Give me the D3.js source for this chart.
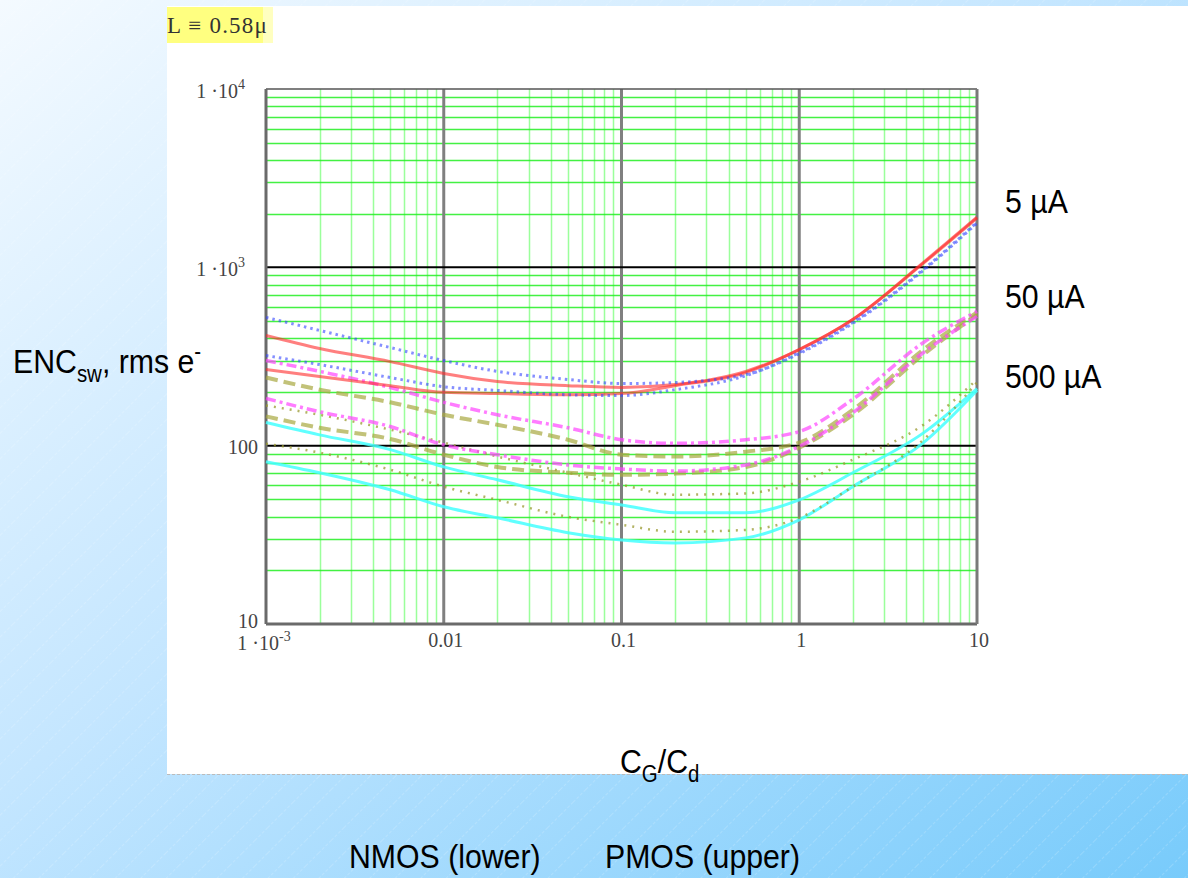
<!DOCTYPE html>
<html>
<head>
<meta charset="utf-8">
<script src="https://cdn.jsdelivr.net/npm/d3@7/dist/d3.min.js"></script>
<style>
  html, body { margin: 0; padding: 0; background: #fff; }
  svg { display: block; }
  .narrow { font-family: "Liberation Sans", Arial, sans-serif; }
  .serif { font-family: "Liberation Serif", "Times New Roman", serif; }
</style>
</head>
<body>
<svg id="chart" width="1188" height="878"></svg>
<script>
// ---------------- DATA ----------------
const cgcd = [0.001, 0.002, 0.005, 0.01, 0.02, 0.05, 0.1, 0.2, 0.5, 1, 2, 5, 10];

// 5 uA group
const red5Upper  = [415, 351, 296, 254, 229, 217, 212, 220, 261, 346, 510, 1067, 1910];
const red5Lower  = [267, 244, 217, 199, 196, 193, 196, 217, 257, 346, 510, 1055, 1890];
const blue5Upper = [524, 443, 355, 300, 261, 235, 223, 226, 250, 333, 491, 975, 1791];
const blue5Lower = [320, 285, 241, 214, 204, 193, 191, 206, 247, 328, 485, 962, 1770];

// 50 uA group
const mag50Upper = [300, 261, 212, 175, 149, 126, 108, 103, 108, 120, 182, 379, 566];
const olv50Upper = [241, 206, 175, 149, 131, 108, 89, 87, 92.5, 104, 159, 346, 558];
const mag50Lower = [184, 155, 128, 101, 89, 78, 74, 72, 78, 99, 153, 333, 531];
const olv50Lower = [146, 126, 109, 89, 76, 70.5, 68.7, 69.7, 76, 97.5, 149, 325, 544];

// 500 uA group
const dot500Upper  = [168, 149, 123, 104, 87, 70.5, 60.4, 53.1, 54, 62.8, 83.4, 131, 235];
const cyan500Upper = [135, 115, 95, 76, 64.4, 51.7, 46.5, 42.1, 42.1, 49.7, 70.5, 118, 209];
const dot500Lower  = [102.6, 91.4, 73.3, 58.9, 49.7, 39.9, 36, 32.9, 33.7, 39.4, 58.9, 108, 226];
const cyan500Lower = [81.3, 70.5, 56.6, 45.4, 39.4, 32.5, 29.6, 28.5, 30.4, 38.4, 58.9, 104, 204];

const xTicks = [0.001, 0.01, 0.1, 1, 10];
const xTickText = ["1 ·10^-3", "0.01", "0.1", "1", "10"];
const yTicks = [10, 100, 1000, 10000];
const yTickText = ["10", "100", "1 ·10^3", "1 ·10^4"];

const groupLabels = ["5 µA", "50 µA", "500 µA"];
const paramLabel = "L ≡ 0.58μ";
const deviceLabels = ["NMOS (lower)", "PMOS (upper)"];

// ---------------- DRAW ----------------
const svg = d3.select("#chart");
const W = 1188, H = 878;
const defs = svg.append("defs");

const bg = defs.append("linearGradient").attr("id", "bg")
  .attr("x1", "0").attr("y1", "0").attr("x2", "1").attr("y2", "1");
bg.append("stop").attr("offset", "0").attr("stop-color", "#f4faff");
bg.append("stop").attr("offset", "0.45").attr("stop-color", "#c4e6ff");
bg.append("stop").attr("offset", "1").attr("stop-color", "#78cbfb");

const pat = defs.append("pattern").attr("id", "hatch")
  .attr("patternUnits", "userSpaceOnUse").attr("width", 18).attr("height", 18)
  .attr("patternTransform", "rotate(45)");
pat.append("line").attr("x1", 0).attr("y1", 0).attr("x2", 0).attr("y2", 18)
  .attr("stroke", "#ffffff").attr("stroke-width", 1).attr("stroke-opacity", 0.35)
  .attr("stroke-dasharray", "3,2");

svg.append("rect").attr("width", W).attr("height", H).attr("fill", "url(#bg)");
svg.append("rect").attr("width", W).attr("height", H).attr("fill", "url(#hatch)");

// white panel
svg.append("rect").attr("x", 167).attr("y", 6).attr("width", W - 167).attr("height", 768).attr("fill", "#ffffff");
svg.append("line").attr("x1", 167).attr("x2", W).attr("y1", 774.5).attr("y2", 774.5)
  .attr("stroke", "#bbbbbb").attr("stroke-width", 1).attr("stroke-dasharray", "3,2");

// parameter label
svg.append("rect").attr("x", 167).attr("y", 7).attr("width", 96).attr("height", 36).attr("fill", "#ffff80");
svg.append("rect").attr("x", 263).attr("y", 7).attr("width", 10).attr("height", 36).attr("fill", "#ffffc0");
svg.append("text").attr("class", "serif").attr("x", 167).attr("y", 33)
  .attr("font-size", 23).attr("letter-spacing", 1.2).attr("fill", "#333").text(paramLabel);

const x = d3.scaleLog().domain([0.001, 10]).range([266, 977]);
const y = d3.scaleLog().domain([10, 10000]).range([624, 89]);

const g = svg.append("g");
const isDecade = v => Math.abs(Math.log10(v) - Math.round(Math.log10(v))) < 1e-9;

// minor grid
const xg = x.ticks().filter(v => !isDecade(v));
const yg = y.ticks().filter(v => !isDecade(v));
g.selectAll(".vg").data(xg).join("line")
  .attr("x1", d => Math.round(x(d)) + 0.5).attr("x2", d => Math.round(x(d)) + 0.5)
  .attr("y1", y(10000)).attr("y2", y(10))
  .attr("stroke", "#66ff66").attr("stroke-opacity", 0.65).attr("stroke-width", 1.5);
g.selectAll(".hg").data(yg).join("line")
  .attr("y1", d => Math.round(y(d)) + 0.5).attr("y2", d => Math.round(y(d)) + 0.5)
  .attr("x1", x(0.001)).attr("x2", x(10))
  .attr("stroke", "#22ee22").attr("stroke-opacity", 0.85).attr("stroke-width", 1.5);

// major grid
g.selectAll(".vmaj").data([0.01, 0.1, 1]).join("line")
  .attr("x1", d => x(d)).attr("x2", d => x(d))
  .attr("y1", y(10000)).attr("y2", y(10))
  .attr("stroke", "#808080").attr("stroke-width", 3);
g.selectAll(".hmaj").data([100, 1000]).join("line")
  .attr("y1", d => y(d)).attr("y2", d => y(d))
  .attr("x1", x(0.001)).attr("x2", x(10))
  .attr("stroke", "#000000").attr("stroke-width", 2);

// frame
g.append("line").attr("x1", x(0.001)).attr("x2", x(10)).attr("y1", y(10000)).attr("y2", y(10000))
  .attr("stroke", "#555").attr("stroke-width", 1.5);
g.append("line").attr("x1", x(0.001)).attr("x2", x(10)).attr("y1", y(10)).attr("y2", y(10))
  .attr("stroke", "#6a6a6a").attr("stroke-width", 3);
g.append("line").attr("x1", x(0.001)).attr("x2", x(0.001)).attr("y1", y(10000)).attr("y2", y(10))
  .attr("stroke", "#6a6a6a").attr("stroke-width", 3);
g.append("line").attr("x1", x(10)).attr("x2", x(10)).attr("y1", y(10000)).attr("y2", y(10))
  .attr("stroke", "#7a7a7a").attr("stroke-width", 3);

// curves
const series = [
  { v: cyan500Lower, color: "#44ffff", w: 3, dash: null, op: 0.85 },
  { v: cyan500Upper, color: "#44ffff", w: 3, dash: null, op: 0.85 },
  { v: dot500Lower, color: "#9a9a30", w: 2.5, dash: "2,6", op: 0.75 },
  { v: dot500Upper, color: "#9a9a30", w: 2.5, dash: "2,6", op: 0.75 },
  { v: olv50Lower, color: "#a8a840", w: 4, dash: "12,6", op: 0.7 },
  { v: olv50Upper, color: "#a8a840", w: 4, dash: "12,6", op: 0.7 },
  { v: mag50Lower, color: "#ff44ff", w: 3.5, dash: "10,4,3,4", op: 0.7 },
  { v: mag50Upper, color: "#ff44ff", w: 3.5, dash: "10,4,3,4", op: 0.7 },
  { v: red5Lower, color: "#ff2a2a", w: 3, dash: null, op: 0.6 },
  { v: red5Upper, color: "#ff2a2a", w: 3, dash: null, op: 0.6 },
  { v: blue5Lower, color: "#3344ff", w: 3, dash: "2.5,4", op: 0.6 },
  { v: blue5Upper, color: "#3344ff", w: 3, dash: "2.5,4", op: 0.6 }
];
const line = d3.line().x(d => x(d[0])).y(d => y(d[1])).curve(d3.curveMonotoneX);
g.selectAll(".curve").data(series).join("path")
  .attr("d", s => line(cgcd.map((c, i) => [c, s.v[i]])))
  .attr("fill", "none")
  .attr("stroke", s => s.color)
  .attr("stroke-width", s => s.w)
  .attr("stroke-opacity", s => s.op)
  .attr("stroke-dasharray", s => s.dash);

// tick labels
function tickText(sel, str) {
  const parts = str.split("^");
  sel.append("tspan").text(parts[0]);
  if (parts.length > 1) {
    sel.append("tspan").attr("font-size", 14).attr("dy", -9).text(parts[1]);
  }
}
yTicks.forEach((v, i) => {
  const hasExp = yTickText[i].includes("^");
  const t = svg.append("text").attr("class", "serif")
    .attr("x", hasExp ? 245 : 258).attr("y", v === 10 ? y(v) + 4 : y(v) + 8.5)
    .attr("text-anchor", "end").attr("font-size", 20).attr("fill", "#444");
  tickText(t, yTickText[i]);
});
xTicks.forEach((v, i) => {
  const t = svg.append("text").attr("class", "serif")
    .attr("x", x(v) + (i === 0 ? -2 : 2)).attr("y", i === 0 ? 650 : 647)
    .attr("text-anchor", "middle").attr("font-size", 20).attr("fill", "#444");
  tickText(t, xTickText[i]);
});

// narrow text helper (horizontally condensed sans)
function narrowText(xp, yp, size) {
  return svg.append("g").attr("transform", `translate(${xp},${yp}) scale(0.89,1)`)
    .append("text").attr("class", "narrow").attr("x", 0).attr("y", 0)
    .attr("font-size", size).attr("fill", "#000");
}

// group labels
const labelY = [213, 308, 388];
groupLabels.forEach((s, i) => {
  narrowText(1005, labelY[i], 34).text(s);
});

// y axis title
const yt = narrowText(13, 373, 34);
yt.append("tspan").text("ENC");
yt.append("tspan").attr("font-size", 23).attr("dy", 9).text("sw");
yt.append("tspan").attr("dy", -9).text(", rms e");
yt.append("tspan").attr("font-size", 23).attr("dy", -14).text("-");

// x axis title
const xt = narrowText(620, 773, 34);
xt.append("tspan").text("C");
xt.append("tspan").attr("font-size", 23).attr("dy", 9).text("G");
xt.append("tspan").attr("dy", -9).text("/C");
xt.append("tspan").attr("font-size", 23).attr("dy", 9).text("d");

// device labels
narrowText(349, 868, 34).text(deviceLabels[0]);
narrowText(605, 868, 34).text(deviceLabels[1]);
</script>
</body>
</html>
